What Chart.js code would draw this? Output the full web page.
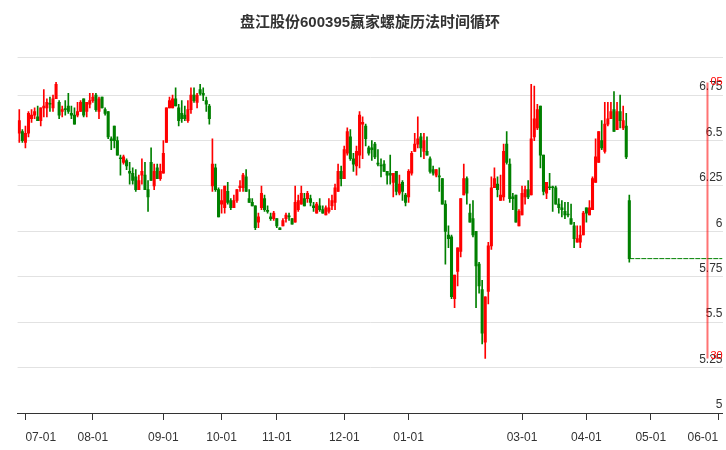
<!DOCTYPE html>
<html>
<head>
<meta charset="utf-8">
<script src="https://cdn.jsdelivr.net/npm/chart.js@4.4.1/dist/chart.umd.min.js"></script>
<style>
  html, body { margin: 0; padding: 0; background: #fff; }
</style>
</head>
<body>
<canvas id="grafica" width="726" height="450"></canvas>
<script>
// Daily candles, one per trading day (index 0 = first candle)
const opens = [
  6.54, 6.55, 6.49, 6.54, 6.62, 6.64, 6.63, 6.61, 6.68, 6.68,
  6.70, 6.68, 6.73, 6.71, 6.66, 6.67, 6.69, 6.65, 6.64, 6.64,
  6.66, 6.73, 6.66, 6.70, 6.72, 6.75, 6.66, 6.74, 6.67, 6.66,
  6.51, 6.58, 6.50, 6.40, 6.38, 6.39, 6.33, 6.32, 6.30, 6.23,
  6.31, 6.31, 6.23, 6.38, 6.25, 6.35, 6.29, 6.32, 6.49, 6.68,
  6.68, 6.73, 6.68, 6.65, 6.64, 6.61, 6.67, 6.75, 6.71, 6.78,
  6.76, 6.72, 6.69, 6.25, 6.35, 6.23, 6.15, 6.13, 6.22, 6.17,
  6.13, 6.17, 6.24, 6.24, 6.30, 6.18, 6.16, 6.14, 6.05, 6.13,
  6.18, 6.11, 6.08, 6.07, 6.07, 6.02, 6.03, 6.07, 6.08, 6.07,
  6.05, 6.12, 6.15, 6.18, 6.18, 6.18, 6.14, 6.10, 6.14, 6.12,
  6.09, 6.11, 6.14, 6.16, 6.22, 6.33, 6.29, 6.43, 6.52, 6.40,
  6.36, 6.42, 6.59, 6.58, 6.46, 6.46, 6.48, 6.37, 6.36, 6.37,
  6.33, 6.32, 6.27, 6.33, 6.21, 6.27, 6.20, 6.19, 6.32, 6.44,
  6.48, 6.52, 6.44, 6.44, 6.40, 6.34, 6.31, 6.30, 6.29, 6.15,
  5.98, 5.97, 5.63, 5.78, 5.89, 6.20, 6.29, 6.10, 6.07, 6.00,
  5.82, 5.68, 5.39, 5.67, 5.92, 6.24, 6.26, 6.17, 6.19, 6.48,
  6.37, 6.19, 6.20, 6.03, 6.09, 6.19, 6.23, 6.20, 6.52, 6.57,
  6.69, 6.42, 6.21, 6.24, 6.24, 6.24, 6.15, 6.13, 6.11, 6.09,
  6.07, 6.03, 5.94, 5.94, 5.98, 6.13, 6.09, 6.12, 6.27, 6.38,
  6.50, 6.44, 6.59, 6.62, 6.67, 6.56, 6.66, 6.57, 6.58, 6.17
];
const closes = [
  6.61, 6.50, 6.54, 6.65, 6.64, 6.66, 6.61, 6.68, 6.69, 6.71,
  6.70, 6.73, 6.81, 6.64, 6.67, 6.67, 6.66, 6.64, 6.59, 6.66,
  6.71, 6.64, 6.71, 6.72, 6.74, 6.67, 6.73, 6.68, 6.65, 6.52,
  6.50, 6.50, 6.42, 6.40, 6.41, 6.36, 6.32, 6.28, 6.23, 6.28,
  6.33, 6.23, 6.19, 6.28, 6.33, 6.29, 6.33, 6.43, 6.68, 6.72,
  6.73, 6.69, 6.61, 6.62, 6.62, 6.67, 6.75, 6.72, 6.75, 6.76,
  6.75, 6.70, 6.62, 6.37, 6.23, 6.08, 6.17, 6.25, 6.16, 6.13,
  6.17, 6.23, 6.25, 6.31, 6.22, 6.16, 6.14, 6.02, 6.08, 6.21,
  6.12, 6.11, 6.07, 6.10, 6.03, 6.01, 6.06, 6.09, 6.08, 6.04,
  6.16, 6.17, 6.21, 6.14, 6.21, 6.16, 6.13, 6.15, 6.12, 6.10,
  6.13, 6.13, 6.17, 6.24, 6.33, 6.29, 6.45, 6.55, 6.40, 6.37,
  6.44, 6.64, 6.60, 6.51, 6.43, 6.45, 6.41, 6.37, 6.36, 6.33,
  6.31, 6.31, 6.32, 6.22, 6.26, 6.22, 6.16, 6.33, 6.43, 6.48,
  6.51, 6.46, 6.50, 6.42, 6.33, 6.32, 6.34, 6.30, 6.15, 6.00,
  5.96, 5.64, 5.76, 5.91, 6.18, 6.29, 6.21, 6.05, 5.98, 5.81,
  5.70, 5.44, 5.64, 5.92, 6.24, 6.29, 6.23, 6.20, 6.44, 6.38,
  6.18, 6.18, 6.05, 6.11, 6.21, 6.23, 6.19, 6.51, 6.62, 6.67,
  6.42, 6.22, 6.27, 6.24, 6.24, 6.15, 6.13, 6.12, 6.09, 6.09,
  6.04, 5.96, 5.96, 5.98, 6.10, 6.10, 6.13, 6.29, 6.41, 6.55,
  6.46, 6.59, 6.62, 6.66, 6.55, 6.66, 6.61, 6.61, 6.41, 5.85
];
const highs = [
  6.67, 6.56, 6.58, 6.66, 6.67, 6.68, 6.69, 6.68, 6.78, 6.73,
  6.74, 6.75, 6.82, 6.72, 6.69, 6.72, 6.76, 6.69, 6.68, 6.71,
  6.72, 6.73, 6.71, 6.76, 6.76, 6.76, 6.74, 6.74, 6.68, 6.66,
  6.52, 6.58, 6.52, 6.42, 6.42, 6.40, 6.38, 6.35, 6.34, 6.31,
  6.40, 6.38, 6.28, 6.46, 6.37, 6.37, 6.37, 6.50, 6.68, 6.74,
  6.75, 6.79, 6.70, 6.72, 6.69, 6.72, 6.79, 6.79, 6.76, 6.81,
  6.79, 6.74, 6.70, 6.51, 6.37, 6.24, 6.23, 6.25, 6.27, 6.18,
  6.20, 6.23, 6.28, 6.32, 6.34, 6.23, 6.18, 6.14, 6.10, 6.25,
  6.20, 6.14, 6.10, 6.11, 6.07, 6.02, 6.07, 6.10, 6.10, 6.07,
  6.25, 6.20, 6.25, 6.21, 6.22, 6.20, 6.16, 6.16, 6.18, 6.14,
  6.14, 6.18, 6.20, 6.26, 6.37, 6.36, 6.47, 6.57, 6.56, 6.43,
  6.47, 6.66, 6.63, 6.59, 6.47, 6.50, 6.49, 6.45, 6.40, 6.39,
  6.33, 6.42, 6.32, 6.33, 6.31, 6.28, 6.21, 6.34, 6.44, 6.54,
  6.63, 6.54, 6.54, 6.52, 6.41, 6.36, 6.34, 6.35, 6.29, 6.17,
  6.03, 5.98, 5.76, 5.91, 6.18, 6.37, 6.30, 6.15, 6.17, 6.00,
  5.83, 5.73, 5.64, 5.94, 6.30, 6.35, 6.30, 6.31, 6.48, 6.55,
  6.40, 6.21, 6.20, 6.12, 6.25, 6.25, 6.28, 6.81, 6.80, 6.70,
  6.69, 6.42, 6.27, 6.32, 6.25, 6.25, 6.18, 6.17, 6.16, 6.16,
  6.15, 6.05, 6.03, 6.03, 6.11, 6.13, 6.17, 6.30, 6.51, 6.55,
  6.61, 6.71, 6.71, 6.71, 6.77, 6.71, 6.75, 6.69, 6.65, 6.20
];
const lows = [
  6.49, 6.49, 6.46, 6.52, 6.60, 6.62, 6.61, 6.58, 6.63, 6.63,
  6.66, 6.66, 6.73, 6.62, 6.63, 6.64, 6.65, 6.62, 6.59, 6.63,
  6.66, 6.63, 6.63, 6.68, 6.71, 6.66, 6.62, 6.68, 6.64, 6.51,
  6.45, 6.46, 6.42, 6.31, 6.37, 6.34, 6.26, 6.26, 6.22, 6.23,
  6.26, 6.23, 6.11, 6.28, 6.23, 6.29, 6.28, 6.32, 6.49, 6.68,
  6.68, 6.69, 6.58, 6.60, 6.61, 6.60, 6.65, 6.71, 6.68, 6.75,
  6.72, 6.66, 6.59, 6.22, 6.22, 6.08, 6.10, 6.10, 6.15, 6.12,
  6.13, 6.16, 6.22, 6.22, 6.22, 6.16, 6.14, 6.01, 6.02, 6.12,
  6.11, 6.10, 6.06, 6.06, 6.02, 6.01, 6.03, 6.05, 6.06, 6.04,
  6.05, 6.11, 6.15, 6.14, 6.16, 6.14, 6.11, 6.10, 6.11, 6.10,
  6.09, 6.10, 6.12, 6.12, 6.22, 6.25, 6.29, 6.42, 6.39, 6.33,
  6.31, 6.35, 6.40, 6.47, 6.42, 6.39, 6.40, 6.36, 6.30, 6.33,
  6.26, 6.26, 6.19, 6.20, 6.20, 6.17, 6.14, 6.16, 6.31, 6.44,
  6.46, 6.41, 6.40, 6.42, 6.32, 6.31, 6.30, 6.22, 6.15, 5.82,
  5.91, 5.63, 5.58, 5.70, 5.86, 6.20, 6.15, 6.05, 5.97, 5.58,
  5.66, 5.38, 5.30, 5.60, 5.90, 6.24, 6.19, 6.17, 6.17, 6.37,
  6.16, 6.12, 6.05, 6.03, 6.09, 6.15, 6.18, 6.20, 6.50, 6.56,
  6.35, 6.20, 6.18, 6.23, 6.11, 6.15, 6.10, 6.08, 6.07, 6.08,
  6.04, 5.91, 5.94, 5.91, 5.98, 6.05, 6.09, 6.12, 6.27, 6.38,
  6.45, 6.43, 6.58, 6.62, 6.55, 6.56, 6.57, 6.56, 6.40, 5.83
];

// Month ticks: trading-day index and label
const tickIdx = [2, 24, 47, 66, 84, 106, 127, 164, 185, 206, 228];
const tickLabels = ['07-01', '08-01', '09-01', '10-01', '11-01', '12-01', '01-01', '03-01', '04-01', '05-01', '06-01'];

// Time cycle marker (future trading-day index) and its texts
const cycleIdx = 224.5;
const cycleTopText = '05';
const cycleBottomText = '30';

// Axis ranges
const xMin = -0.55, xMax = 229.4;
const yMin = 5, yMax = 6.96, yStep = 0.25;

const RED = '#ff0000';
const GREEN = '#008000';

document.addEventListener('DOMContentLoaded', function () {
    const ctx = document.getElementById('grafica').getContext('2d');

    const idx = opens.map((_, i) => i);
    const colors = idx.map(i => closes[i] > opens[i] ? RED : GREEN);
    const lastIdx = idx[idx.length - 1];
    const lastClose = closes[lastIdx];
    const maxHigh = Math.max(...highs);
    const minLow = Math.min(...lows);

    // Red texts next to the ends of the cycle line
    const cycleTexts = {
        id: 'cycleTexts',
        afterDatasetsDraw(chart) {
            const { ctx, scales: { x, y } } = chart;
            const px = x.getPixelForValue(cycleIdx);
            ctx.save();
            ctx.fillStyle = RED;
            ctx.font = '11px Arial, "Liberation Sans", sans-serif';
            ctx.textAlign = 'left';
            ctx.textBaseline = 'middle';
            ctx.fillText(cycleTopText, px + 3, y.getPixelForValue(maxHigh));
            ctx.fillText(cycleBottomText, px + 3, y.getPixelForValue(minLow) - 3);
            ctx.restore();
        }
    };

    Chart.defaults.font.family = 'Arial, "Liberation Sans", "Noto Sans CJK SC", sans-serif';

    new Chart(ctx, {
        type: 'bar',
        data: {
            datasets: [
                {
                    // wicks
                    data: idx.map(i => ({ x: i, y: [lows[i], highs[i]] })),
                    backgroundColor: colors,
                    barThickness: 1,
                    grouped: false,
                    order: 3
                },
                {
                    // bodies
                    data: idx.map(i => ({ x: i, y: [opens[i], closes[i]] })),
                    backgroundColor: colors,
                    barThickness: 2.4,
                    minBarLength: 1,
                    grouped: false,
                    order: 2
                },
                {
                    type: 'line',
                    data: [{ x: lastIdx, y: lastClose }, { x: xMax, y: lastClose }],
                    borderColor: GREEN,
                    borderWidth: 1,
                    borderDash: [5, 1],
                    pointRadius: 0,
                    order: 1
                },
                {
                    type: 'line',
                    data: [{ x: cycleIdx, y: minLow }, { x: cycleIdx, y: maxHigh }],
                    borderColor: 'rgba(255, 0, 0, 0.55)',
                    borderWidth: 2,
                    pointRadius: 0,
                    order: 0
                }
            ]
        },
        options: {
            responsive: false,
            animation: false,
            devicePixelRatio: 1,
            layout: { padding: { left: 17.6, right: 3.5, top: 0, bottom: -4.4 } },
            plugins: {
                legend: { display: false },
                tooltip: { enabled: false },
                title: {
                    display: true,
                    text: '盘江股份600395赢家螺旋历法时间循环',
                    color: '#333',
                    font: { size: 15, weight: 'bold' },
                    padding: { top: 14, bottom: 25 }
                }
            },
            scales: {
                x: {
                    type: 'linear',
                    min: xMin,
                    max: xMax,
                    offset: false,
                    grid: { drawOnChartArea: false, drawTicks: true, tickLength: 7, tickColor: '#333', offset: false },
                    border: { color: '#333', width: 1 },
                    afterBuildTicks: axis => { axis.ticks = tickIdx.map(v => ({ value: v })); },
                    // labels may hang over the chart edges, as in the original
                    afterFit: axis => { axis.paddingLeft = 0; axis.paddingRight = 0; },
                    ticks: {
                        autoSkip: false,
                        maxRotation: 0,
                        align: 'inner',
                        padding: 10,
                        color: '#333',
                        font: { size: 12 },
                        callback: v => tickLabels[tickIdx.indexOf(v)]
                    }
                },
                y: {
                    position: 'right',
                    min: yMin,
                    max: yMax,
                    grid: { color: '#e2e2e2', drawTicks: false },
                    border: { display: false },
                    afterFit: axis => { axis.paddingTop = 0; axis.paddingBottom = 0; },
                    ticks: {
                        stepSize: yStep,
                        mirror: true,
                        padding: 0,
                        labelOffset: -8,
                        color: '#333',
                        font: { size: 12 },
                        callback: v => (Math.round(v * 100) % 25 === 0 ? String(+v.toFixed(2)) : '')
                    }
                }
            }
        },
        plugins: [cycleTexts]
    });
});
</script>
</body>
</html>
